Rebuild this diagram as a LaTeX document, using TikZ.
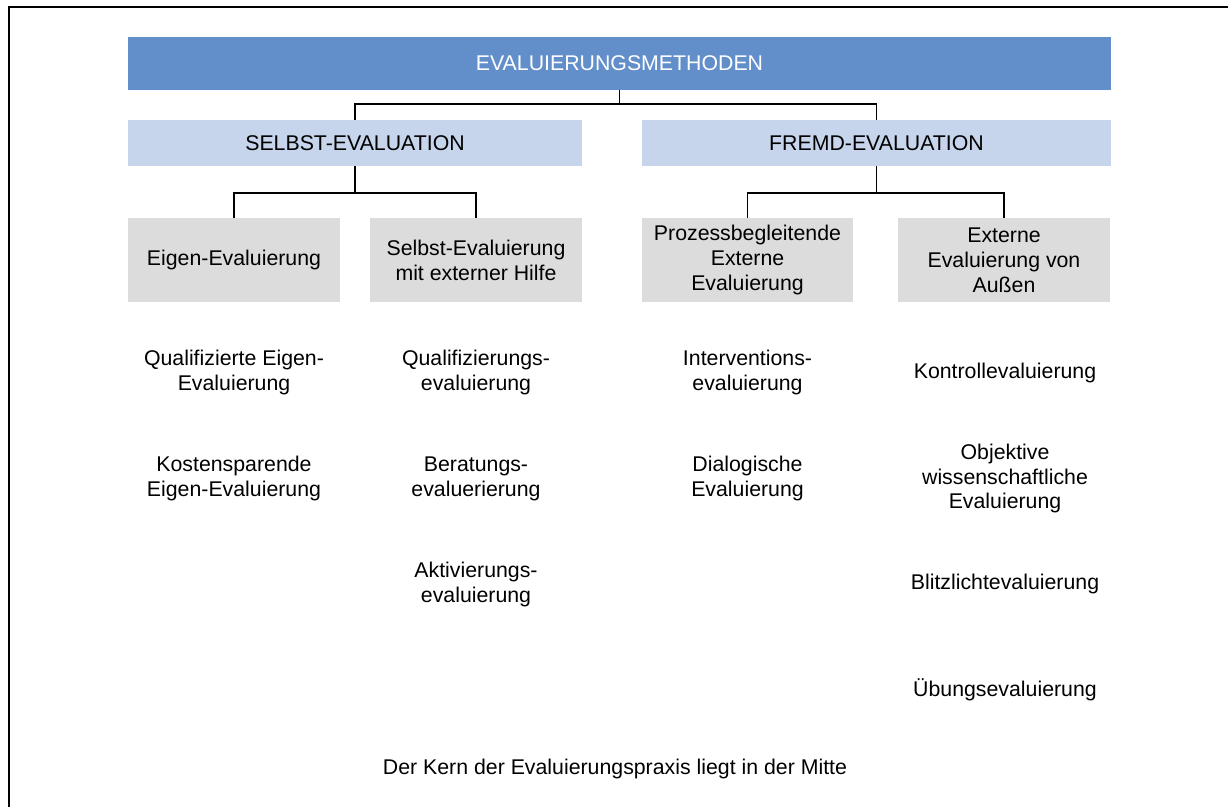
\documentclass[tikz,border=0pt]{standalone}
\usepackage{fontspec}
\setmainfont{Liberation Sans}
\usetikzlibrary{positioning}

\definecolor{headblue}{RGB}{98,143,201}
\definecolor{groupblue}{RGB}{198,213,235}
\definecolor{boxgrey}{RGB}{220,220,220}

\tikzset{
    base/.style={inner sep=0pt, align=center, font=\fontsize{21.3}{24.8}\selectfont},
    head/.style={base, fill=headblue, text=white, minimum width=983pt, minimum height=53pt},
    group/.style={base, fill=groupblue, minimum height=46pt},
    branch/.style={base, fill=boxgrey, minimum width=212pt, minimum height=84pt},
    item/.style={base},
    link/.style={line width=1.5pt},
}

\begin{document}
\begin{tikzpicture}[x=1pt, y=-1pt]
    \useasboundingbox (0,0) rectangle (1228,807);
    \draw [line width=2pt] (9,807) -- (9,7) -- (1228,7);

    % top and the two groups
    \node [head] (methods) at (619.5,63.5) {EVALUIERUNGSMETHODEN};
    \node [group, minimum width=454pt] (self) at (355,143) {SELBST-EVALUATION};
    \node [group, minimum width=469pt] (foreign) at (876.5,143) {FREMD-EVALUATION};

    % grey boxes
    \node [branch] (own) at (234,260) {Eigen-Evaluierung};
    \node [branch] (helped) at (476,260) {Selbst-Evaluierung\\mit externer Hilfe};
    \node [branch, minimum width=211pt] (process) at (747.5,260) {Prozessbegleitende\\Externe\\Evaluierung};
    \node [branch] (outside) at (1004,260) {Externe\\Evaluierung von\\Au\ss en};

    \draw [link] (methods.south) -- ++(0,14) -| (self.north);
    \draw [link] (methods.south) -- ++(0,14) -| (foreign.north);
    \draw [link] (self.south) -- ++(0,27) -| (own.north);
    \draw [link] (self.south) -- ++(0,27) -| (helped.north);
    \draw [link] (foreign.south) -- ++(0,27) -| (process.north);
    \draw [link] (foreign.south) -- ++(0,27) -| (outside.north);

    % methods under each box
    \node [item] (qualown) at (234,372.5) {Qualifizierte Eigen-\\Evaluierung};
    \node [item] (cheapown) at (234,478.5) {Kostensparende\\Eigen-Evaluierung};
    \node [item] (qualify) at (476,372.5) {Qualifizierungs-\\evaluierung};
    \node [item] (advice) at (476,478.5) {Beratungs-\\evaluerierung};
    \node [item] (activate) at (476,584.5) {Aktivierungs-\\evaluierung};
    \node [item] (intervene) at (747.5,372.5) {Interventions-\\evaluierung};
    \node [item] (dialog) at (747.5,478.5) {Dialogische\\Evaluierung};
    \node [item] (control) at (1005,373) {Kontrollevaluierung};
    \node [item] (science) at (1005,478.5) {Objektive\\wissenschaftliche\\Evaluierung};
    \node [item] (flash) at (1005,584) {Blitzlichtevaluierung};
    \node [item] (practice) at (1005,690) {\"Ubungsevaluierung};

    \node [item] (core) at (615,769) {Der Kern der Evaluierungspraxis liegt in der Mitte};
\end{tikzpicture}
\end{document}
